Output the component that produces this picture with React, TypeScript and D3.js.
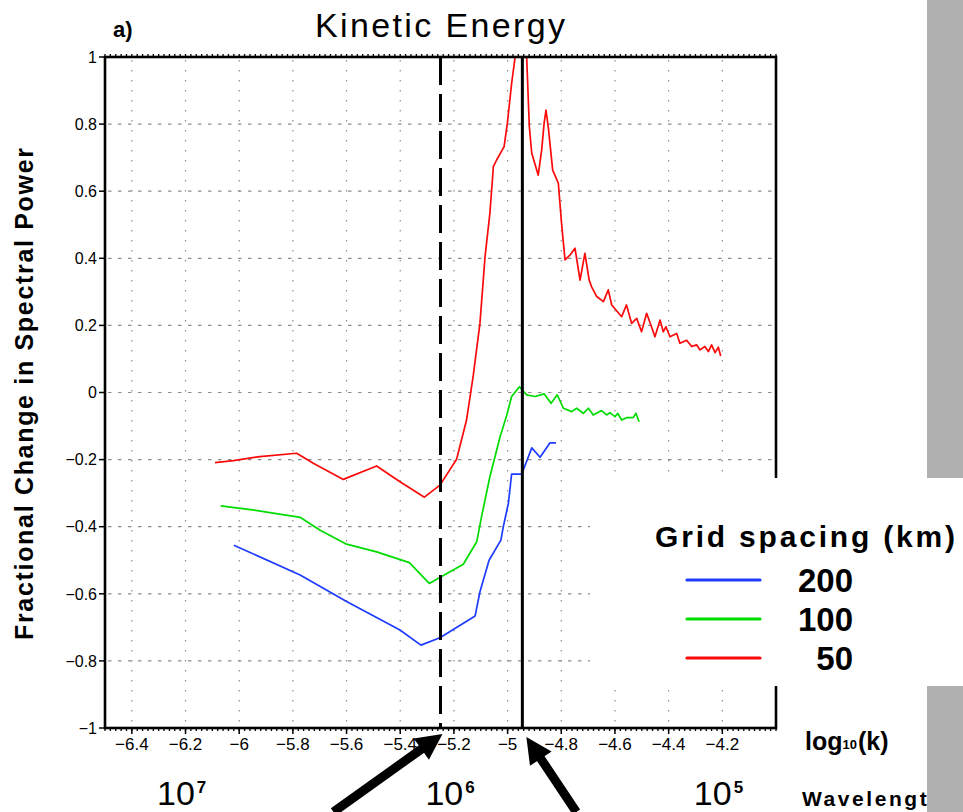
import React from 'react';
import * as d3 from 'd3';

// ---- data ----
const xTicks = [-6.4, -6.2, -6, -5.8, -5.6, -5.4, -5.2, -5, -4.8, -4.6, -4.4, -4.2];
const yTicks = [-1, -0.8, -0.6, -0.4, -0.2, 0, 0.2, 0.4, 0.6, 0.8, 1];
const yGrid = [-0.8, -0.6, -0.4, -0.2, 0, 0.2, 0.4, 0.6, 0.8];

const blueX = [-6.02, -5.773, -5.6, -5.401, -5.323, -5.252, -5.121, -5.103, -5.069, -5.025, -5.016, -4.997, -4.985, -4.947, -4.91, -4.879, -4.842, -4.82];
const blueY = [-0.455, -0.544, -0.623, -0.708, -0.753, -0.731, -0.666, -0.594, -0.5, -0.44, -0.4, -0.33, -0.243, -0.243, -0.165, -0.193, -0.15, -0.15];

const greenX = [-6.069, -5.95, -5.773, -5.7, -5.6, -5.488, -5.366, -5.292, -5.165, -5.115, -5.097, -5.066, -5.028, -5.003, -4.985, -4.956, -4.929, -4.898, -4.864, -4.838, -4.815, -4.792, -4.761, -4.743, -4.718, -4.699, -4.681, -4.65, -4.631, -4.619, -4.6, -4.59, -4.575, -4.557, -4.532, -4.522, -4.51];
const greenY = [-0.338, -0.35, -0.372, -0.41, -0.452, -0.475, -0.507, -0.569, -0.512, -0.445, -0.37, -0.251, -0.132, -0.067, -0.012, 0.017, -0.007, -0.012, -0.004, -0.032, -0.007, -0.047, -0.057, -0.047, -0.062, -0.047, -0.067, -0.054, -0.067, -0.06, -0.072, -0.062, -0.082, -0.075, -0.075, -0.062, -0.087];

const redX = [-6.09, -6.022, -5.923, -5.786, -5.724, -5.612, -5.488, -5.401, -5.31, -5.252, -5.19, -5.153, -5.128, -5.103, -5.084, -5.066, -5.053, -5.041, -5.013, -5.001, -4.985, -4.972, -4.95, -4.929, -4.919, -4.91, -4.886, -4.873, -4.864, -4.857, -4.848, -4.832, -4.811, -4.799, -4.792, -4.786, -4.767, -4.749, -4.73, -4.712, -4.696, -4.687, -4.668, -4.643, -4.625, -4.612, -4.575, -4.557, -4.538, -4.519, -4.501, -4.482, -4.464, -4.451, -4.432, -4.42, -4.41, -4.395, -4.37, -4.358, -4.333, -4.314, -4.296, -4.283, -4.265, -4.252, -4.24, -4.227, -4.215, -4.206];
const redY = [-0.209, -0.203, -0.191, -0.181, -0.211, -0.259, -0.219, -0.266, -0.312, -0.276, -0.199, -0.082, 0.05, 0.206, 0.405, 0.534, 0.673, 0.693, 0.733, 0.802, 0.921, 1.0, 1.1, 1.0, 0.792, 0.713, 0.648, 0.723, 0.802, 0.842, 0.788, 0.663, 0.624, 0.504, 0.445, 0.395, 0.41, 0.43, 0.335, 0.415, 0.335, 0.315, 0.286, 0.271, 0.306, 0.261, 0.226, 0.261, 0.206, 0.221, 0.181, 0.236, 0.196, 0.166, 0.216, 0.181, 0.196, 0.166, 0.176, 0.147, 0.156, 0.137, 0.142, 0.127, 0.137, 0.122, 0.142, 0.119, 0.135, 0.109];

const seriesNames = ['200', '100', '50'];
const seriesColors = ['#1e3cff', '#00dc00', '#fa0a0a'];

const wavelengths = [1e7, 1e6, 1e5];
const wavelengthExp = ['7', '6', '5'];

const dashedLineX = -5.25;
const solidLineX = -4.945;

// ---- layout ----
const W = 963;
const H = 812;
const left = 105, right = 776, top = 57, bottom = 728;

export default function App() {
  const x = d3.scaleLinear().domain([-6.5, -4.0]).range([left, right]);
  const y = d3.scaleLinear().domain([-1, 1]).range([bottom, top]);
  const fmt = d3.format('');
  const line = d3.line<[number, number]>().x(d => x(d[0])).y(d => y(d[1]));

  const series = [
    { xs: blueX, ys: blueY, color: seriesColors[0] },
    { xs: greenX, ys: greenY, color: seriesColors[1] },
    { xs: redX, ys: redY, color: seriesColors[2] },
  ];

  const minorTicks = d3.range(-6.5, -4.0 + 1e-9, 0.02);

  const arrow = (x1: number, y1: number, x2: number, y2: number, key: string) => {
    const dx = x2 - x1, dy = y2 - y1;
    const len = Math.hypot(dx, dy);
    const ux = dx / len, uy = dy / len;
    const hl = 26, hw = 13;
    const bx = x2 - ux * hl, by = y2 - uy * hl;
    const px = -uy, py = ux;
    return (
      <g key={key}>
        <line x1={x1} y1={y1} x2={bx + ux * 2} y2={by + uy * 2} stroke="#000" strokeWidth={9} />
        <polygon points={`${x2},${y2} ${bx + px * hw},${by + py * hw} ${bx - px * hw},${by - py * hw}`} fill="#000" />
      </g>
    );
  };

  return (
    <svg width={W} height={H} style={{ position: 'absolute', left: 0, top: 0, background: '#fff' }}
      fontFamily="'Liberation Sans', Arial, sans-serif">
      <rect x={0} y={0} width={W} height={H} fill="#fff" />
      <defs>
        <clipPath id="plotclip">
          <rect x={left} y={top} width={right - left} height={bottom - top} />
        </clipPath>
      </defs>

      {/* grid */}
      {xTicks.map(t => (
        <line key={'gx' + t} x1={x(t)} x2={x(t)} y1={top + 3} y2={bottom - 2} stroke="#8c8c8c" strokeWidth={1.2} strokeDasharray="1.5,8.5" />
      ))}
      {yGrid.map(t => (
        <line key={'gy' + t} x1={left + 3} x2={right - 3} y1={y(t)} y2={y(t)} stroke="#8c8c8c" strokeWidth={1.2} strokeDasharray="3.5,6.5" />
      ))}

      {/* series */}
      <g clipPath="url(#plotclip)">
        {series.map((s, i) => (
          <path key={'s' + i} d={line(s.xs.map((v, j) => [v, s.ys[j]] as [number, number])) || ''}
            fill="none" stroke={s.color} strokeWidth={1.7} strokeLinejoin="round" />
        ))}
      </g>

      {/* vertical reference lines */}
      <line x1={x(dashedLineX)} x2={x(dashedLineX)} y1={top} y2={bottom} stroke="#000" strokeWidth={3} strokeDasharray="28,9" />
      <line x1={x(solidLineX)} x2={x(solidLineX)} y1={top} y2={bottom} stroke="#000" strokeWidth={3} />

      {/* frame */}
      <rect x={left} y={top} width={right - left} height={bottom - top} fill="none" stroke="#000" strokeWidth={2.6} />

      {/* minor ticks */}
      {minorTicks.map((t, i) => (
        <g key={'mt' + i}>
          <line x1={x(t)} x2={x(t)} y1={bottom} y2={bottom + 3} stroke="#000" strokeWidth={1.3} />
          <line x1={x(t)} x2={x(t)} y1={top} y2={top - 3} stroke="#000" strokeWidth={1.3} />
        </g>
      ))}

      {/* x ticks */}
      {xTicks.map(t => (
        <g key={'xt' + t}>
          <line x1={x(t)} x2={x(t)} y1={bottom} y2={bottom + 6} stroke="#000" strokeWidth={1.5} />
          <text x={x(t)} y={750} textAnchor="middle" fontSize={17}>{fmt(t)}</text>
        </g>
      ))}

      {/* y ticks */}
      {yTicks.map(t => (
        <g key={'yt' + t}>
          <line x1={left - 6} x2={left} y1={y(t)} y2={y(t)} stroke="#000" strokeWidth={1.5} />
          <text x={97} y={y(t)} dy="0.36em" textAnchor="end" fontSize={16}>{fmt(t)}</text>
        </g>
      ))}

      {/* titles */}
      <text x={440} y={37} textAnchor="middle" fontSize={34} textLength={250} lengthAdjust="spacing">Kinetic Energy</text>
      <text x={113} y={37} fontSize={22} fontWeight="bold">a)</text>
      <text transform="translate(33,394) rotate(-90)" textAnchor="middle" fontSize={25} fontWeight="bold"
        textLength={492} lengthAdjust="spacing">Fractional Change in Spectral Power</text>

      {/* log10(k) label */}
      <text x={805} y={750} fontSize={25} fontWeight="bold">
        log<tspan fontSize={13} dy={-1}>10</tspan><tspan dy={1} dx={1}>(k)</tspan>
      </text>

      {/* wavelength labels */}
      {wavelengths.map((wl, i) => {
        const cx = x(Math.log10((2 * Math.PI) / wl));
        return (
          <text key={'wl' + i} x={cx - 28} y={805} fontSize={34}>
            10<tspan fontSize={17} fontWeight="bold" dy={-12} dx={2}>{wavelengthExp[i]}</tspan>
          </text>
        );
      })}
      <text x={802} y={806} fontSize={21} fontWeight="bold" textLength={140} lengthAdjust="spacing">Wavelength</text>

      {/* arrows */}
      {arrow(x(dashedLineX) - 107, 812, x(dashedLineX) + 2, 734, 'a1')}
      {arrow(x(solidLineX) + 54, 812, x(solidLineX) + 4, 737, 'a2')}

      {/* legend */}
      <rect x={590} y={478} width={W - 590} height={208} fill="#fff" />
      <text x={655} y={547} fontSize={30} fontWeight="bold" textLength={300} lengthAdjust="spacing">Grid spacing (km)</text>
      {seriesNames.map((n, i) => {
        const ly = 580 + i * 39;
        return (
          <g key={'lg' + i}>
            <line x1={687} x2={760} y1={ly} y2={ly} stroke={seriesColors[i]} strokeWidth={3.2} strokeLinecap="round" />
            <text x={853} y={ly + 12} textAnchor="end" fontSize={33} fontWeight="bold">{n}</text>
          </g>
        );
      })}

      {/* gray side bars */}
      <rect x={927} y={0} width={W - 927} height={478} fill="#b0b0b0" />
      <rect x={927} y={686} width={W - 927} height={H - 686} fill="#b0b0b0" />
    </svg>
  );
}
